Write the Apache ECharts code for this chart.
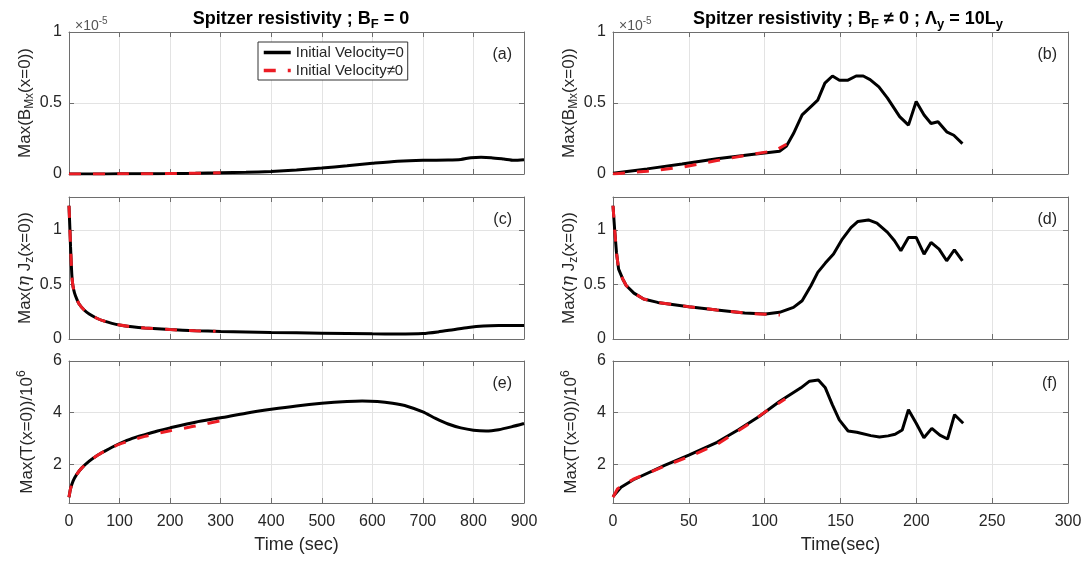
<!DOCTYPE html>
<html><head><meta charset="utf-8">
<script src="https://cdn.jsdelivr.net/npm/echarts@6.0.0/dist/echarts.min.js"></script>
<style>html,body{margin:0;padding:0;background:#fff}#c{width:1091px;height:562px}</style>
</head><body><div id="c"></div>
<script>
// ---------------- data ----------------
const seriesNames = ['Initial Velocity=0', 'Initial Velocity\u22600'];
const panelLabels = ['(a)', '(b)', '(c)', '(d)', '(e)', '(f)'];
const yTicksB = [0, 0.5, 1];
const yTicksJ = [0, 0.5, 1];
const yTicksT = [2, 4, 6];

// (a) Max(B_Mx(x=0)) in units of 1e-5, B_F = 0
const a_v0 = [[0,0],[50,0],[100,0.001],[150,0.002],[200,0.003],[250,0.005],[300,0.008],[350,0.012],[400,0.018],[450,0.028],[500,0.042],[550,0.058],[600,0.075],[650,0.09],[700,0.097],[750,0.098],[775,0.102],[795,0.115],[815,0.118],[835,0.115],[860,0.105],[880,0.096],[900,0.1]];
const a_vn = [[0,0],[100,0.001],[200,0.003],[300,0.008]];
// (b) Max(B_Mx(x=0)) in units of 1e-5, B_F != 0
const b_v0 = [[0,0.005],[22.5,0.036],[45.5,0.071],[68.5,0.107],[91.4,0.138],[109.8,0.16],[114.4,0.197],[119,0.285],[124.7,0.416],[130.5,0.475],[135,0.52],[139.7,0.64],[144.7,0.69],[149.3,0.66],[154.6,0.66],[160.3,0.69],[165,0.69],[169.5,0.665],[175.3,0.613],[181,0.534],[189,0.404],[194.8,0.344],[199.9,0.51],[205.1,0.416],[209.7,0.356],[214.3,0.368],[220,0.297],[224.7,0.273],[230.4,0.214]];
const b_vn = [[0,0],[22.5,0.02],[45.5,0.047],[68.5,0.095],[91.4,0.138],[100.6,0.154],[107,0.165],[114.4,0.21]];
// (c) Max(eta Jz(x=0)), B_F = 0
const c_v0 = [[0,1.22],[1,1.1],[2,0.98],[3,0.85],[4,0.74],[5,0.64],[6,0.56],[8,0.48],[11,0.42],[15,0.37],[20,0.32],[30,0.265],[40,0.228],[55,0.19],[70,0.163],[85,0.143],[100,0.128],[125,0.112],[150,0.101],[200,0.086],[250,0.076],[300,0.069],[400,0.06],[500,0.053],[600,0.047],[650,0.046],[700,0.05],[730,0.065],[760,0.085],[790,0.105],[820,0.118],[850,0.123],[900,0.124]];
const c_vn = [[0,1.22],[1,1.1],[2,0.98],[3,0.85],[4,0.74],[5,0.64],[6,0.56],[8,0.48],[11,0.42],[15,0.37],[20,0.32],[30,0.265],[40,0.228],[55,0.19],[70,0.163],[85,0.143],[100,0.128],[125,0.112],[150,0.101],[200,0.086],[250,0.076],[290,0.07]];
// (d) Max(eta Jz(x=0)), B_F != 0
const d_v0 = [[0,1.22],[1.1,1.0],[2.3,0.79],[3.7,0.64],[6.4,0.55],[8.7,0.49],[13.8,0.42],[20.2,0.366],[29.4,0.335],[50,0.296],[68.5,0.265],[86.8,0.238],[100.6,0.229],[109.8,0.244],[119,0.29],[124.7,0.35],[130.5,0.488],[135,0.61],[140,0.695],[145.4,0.778],[151.2,0.915],[156.9,1.02],[161.5,1.076],[168.4,1.09],[174,1.06],[181,0.976],[185.6,0.9],[189.8,0.808],[194.8,0.93],[199.9,0.93],[205.1,0.777],[209.7,0.884],[215,0.823],[220,0.716],[225.1,0.817],[230.4,0.716]];
const d_vn = [[0,1.22],[1.1,1.0],[2.3,0.79],[3.7,0.64],[6.4,0.55],[8.7,0.49],[13.8,0.42],[20.2,0.366],[29.4,0.335],[50,0.296],[68.5,0.265],[86.8,0.238],[100.6,0.226],[110,0.22]];
// (e) Max(T(x=0))/1e6, B_F = 0
const e_v0 = [[0,0.72],[3,1.05],[8,1.35],[15,1.6],[25,1.85],[40,2.12],[55,2.33],[70,2.5],[85,2.66],[100,2.8],[125,3.0],[150,3.15],[175,3.29],[200,3.41],[250,3.63],[300,3.8],[350,3.98],[400,4.13],[450,4.26],[500,4.36],[550,4.43],[580,4.45],[610,4.43],[640,4.36],[670,4.24],[700,4.03],[725,3.78],[750,3.56],[775,3.41],[800,3.32],[825,3.29],[850,3.34],[875,3.45],[900,3.58]];
const e_vn = [[0,0.72],[3,1.05],[8,1.35],[15,1.6],[25,1.85],[40,2.12],[55,2.33],[70,2.5],[100,2.78],[150,3.08],[200,3.3],[250,3.48],[298,3.68]];
// (f) Max(T(x=0))/1e6, B_F != 0
const f_v0 = [[0,0.75],[5.3,1.11],[13.4,1.4],[34,1.96],[50,2.35],[68.6,2.85],[82.4,3.33],[96.3,3.85],[110,4.44],[123.9,4.96],[129.6,5.22],[135.4,5.26],[140,4.96],[144.6,4.31],[149.2,3.72],[155,3.29],[160.7,3.24],[170,3.11],[175.7,3.06],[181.4,3.1],[186,3.16],[190.7,3.33],[194.8,4.11],[199.9,3.59],[205,3.03],[210.2,3.39],[215.5,3.13],[220.6,2.98],[225.2,3.92],[230.9,3.59]];
const f_vn = [[0,0.72],[3,1.05],[13.4,1.42],[34,1.93],[50,2.29],[68.6,2.77],[87,3.46],[100.8,4.05],[113.5,4.53]];

const panelData = [[a_v0,a_vn],[b_v0,b_vn],[c_v0,c_vn],[d_v0,d_vn],[e_v0,e_vn],[f_v0,f_vn]];

// ---------------- styling / layout ----------------
const FONT = '"Liberation Sans", Arial, Helvetica, sans-serif';
const AX = '#6e6e6e', GRIDC = '#e3e3e3', TXT = '#262626';
const rowsTop = [32, 197, 361], rowH = 142;
const cols = [
  {left: 69, right: 567, max: 900, step: 100, xname: 'Time (sec)', smooth: 0.25, center: 296},
  {left: 613, right: 23, max: 300, step: 50, xname: 'Time(sec)', smooth: false, center: 840}
];
const nameRich = {
  n: {fontSize: 17, color: TXT, fontFamily: FONT, lineHeight: 22},
  i: {fontSize: 17, color: TXT, fontFamily: '"DejaVu Serif", serif', fontStyle: 'italic', lineHeight: 22},
  sub: {fontSize: 12, color: TXT, fontFamily: FONT, verticalAlign: 'bottom', lineHeight: 9},
  sup: {fontSize: 12, color: TXT, fontFamily: FONT, verticalAlign: 'top', lineHeight: 9}
};
const rows = [
  {min: 0, max: 1, ticks: yTicksB, name: '{n|Max(B}{sub|Mx}{n|(x=0))}'},
  {min: 0, max: 1.3, ticks: yTicksJ, name: '{n|Max(}{i|\u03B7}{n| J}{sub|z}{n|(x=0))}'},
  {min: 0.5, max: 6, ticks: yTicksT, name: '{n|Max(T(x=0))/10}{sup|6}'}
];

const grids = [], xAxes = [], yAxes = [], series = [];
for (let r = 0; r < 3; r++) {
  for (let c = 0; c < 2; c++) {
    const idx = r * 2 + c, col = cols[c], row = rows[r];
    grids.push({left: col.left, right: col.right, top: rowsTop[r], height: rowH, containLabel: false});
    const tickStyle = {inside: true, length: 5, lineStyle: {color: AX, width: 1}};
    xAxes.push({
      gridIndex: idx, type: 'value', min: 0, max: col.max, interval: col.step, position: 'bottom',
      axisLine: {show: true, onZero: false, lineStyle: {color: AX, width: 1}},
      axisTick: tickStyle,
      axisLabel: {show: r === 2, color: TXT, fontSize: 16, fontFamily: FONT, margin: 11},
      splitLine: {show: true, lineStyle: {color: GRIDC, width: 1}},
      name: r === 2 ? col.xname : '', nameLocation: 'middle', nameGap: 33,
      nameTextStyle: {fontSize: 18, color: TXT, fontFamily: FONT}
    });
    xAxes.push({
      gridIndex: idx, type: 'value', min: 0, max: col.max, interval: col.step, position: 'top',
      axisLine: {show: true, onZero: false, lineStyle: {color: AX, width: 1}},
      axisTick: tickStyle, axisLabel: {show: false}, splitLine: {show: false}
    });
    yAxes.push({
      gridIndex: idx, type: 'value', min: row.min, max: row.max, position: 'left',
      axisLine: {show: true, onZero: false, lineStyle: {color: AX, width: 1}},
      axisTick: Object.assign({customValues: row.ticks}, tickStyle),
      axisLabel: {customValues: row.ticks, color: TXT, fontSize: 16, fontFamily: FONT, margin: 7},
      splitLine: {show: true, lineStyle: {color: GRIDC, width: 1}},
      name: row.name, nameLocation: 'middle', nameRotate: 90, nameGap: 31,
      nameTextStyle: {rich: nameRich}
    });
    yAxes.push({
      gridIndex: idx, type: 'value', min: row.min, max: row.max, position: 'right',
      axisLine: {show: true, onZero: false, lineStyle: {color: AX, width: 1}},
      axisTick: Object.assign({customValues: row.ticks}, tickStyle),
      axisLabel: {show: false, customValues: row.ticks}, splitLine: {show: false}
    });
    const [blk, red] = panelData[idx];
    series.push({
      name: seriesNames[0], type: 'line', xAxisIndex: 2 * idx, yAxisIndex: 2 * idx,
      data: blk, symbol: 'none', showSymbol: false, smooth: col.smooth,
      clip: true, z: 2,
      lineStyle: {color: '#000000', width: 3}, itemStyle: {color: '#000000'}
    });
    series.push({
      name: seriesNames[1], type: 'line', xAxisIndex: 2 * idx, yAxisIndex: 2 * idx,
      data: red, symbol: 'none', showSymbol: false, smooth: col.smooth,
      clip: true, z: 3,
      lineStyle: {color: '#ec1c24', width: 3, type: [12, 12]}, itemStyle: {color: '#ec1c24'}
    });
  }
}

const titleRich = {
  b: {fontSize: 18, fontWeight: 'bold', color: '#000', fontFamily: FONT, lineHeight: 24},
  s: {fontSize: 13, fontWeight: 'bold', color: '#000', fontFamily: FONT, verticalAlign: 'bottom', lineHeight: 10}
};
const expRich = {
  t: {fontSize: 14, fontWeight: 'normal', color: '#555', fontFamily: FONT, lineHeight: 20},
  p: {fontSize: 10, fontWeight: 'normal', color: '#555', fontFamily: FONT, verticalAlign: 'top', lineHeight: 8}
};
const titles = [
  {text: '{b|Spitzer resistivity ; B}{s|F}{b| = 0}', left: cols[0].center, top: 2, textAlign: 'center', textStyle: {rich: titleRich}},
  {text: '{b|Spitzer resistivity ; B}{s|F}{b| \u2260 0 ; \u039B}{s|y}{b| = 10L}{s|y}', left: cols[1].center + 3, top: 2, textAlign: 'center', textStyle: {rich: titleRich}},
  {text: '{t|\u00D710}{p|-5}', left: cols[0].left + 1, top: 11, textStyle: {fontWeight: 'normal', rich: expRich}},
  {text: '{t|\u00D710}{p|-5}', left: cols[1].left + 1, top: 11, textStyle: {fontWeight: 'normal', rich: expRich}}
];
panelLabels.forEach((lab, i) => {
  const r = Math.floor(i / 2), c = i % 2;
  titles.push({
    text: lab, right: c === 0 ? 574 : 29, top: rowsTop[r] + 10,
    textStyle: {fontSize: 16, fontWeight: 'normal', color: TXT, fontFamily: FONT}
  });
});

const chart = echarts.init(document.getElementById('c'), null, {renderer: 'canvas'});
chart.setOption({
  animation: false,
  backgroundColor: '#ffffff',
  title: titles,
  legend: {
    data: seriesNames, orient: 'vertical', left: 258, top: 42,
    backgroundColor: '#ffffff', borderColor: '#333', borderWidth: 1, borderRadius: 0,
    padding: [3, 4, 2, 4], itemWidth: 27, itemHeight: 14, itemGap: 3,
    itemStyle: {opacity: 0},
    lineStyle: {width: 3.5},
    textStyle: {fontSize: 15, color: TXT, fontFamily: FONT},
    selectedMode: false
  },
  grid: grids, xAxis: xAxes, yAxis: yAxes, series: series
});
</script></body></html>
